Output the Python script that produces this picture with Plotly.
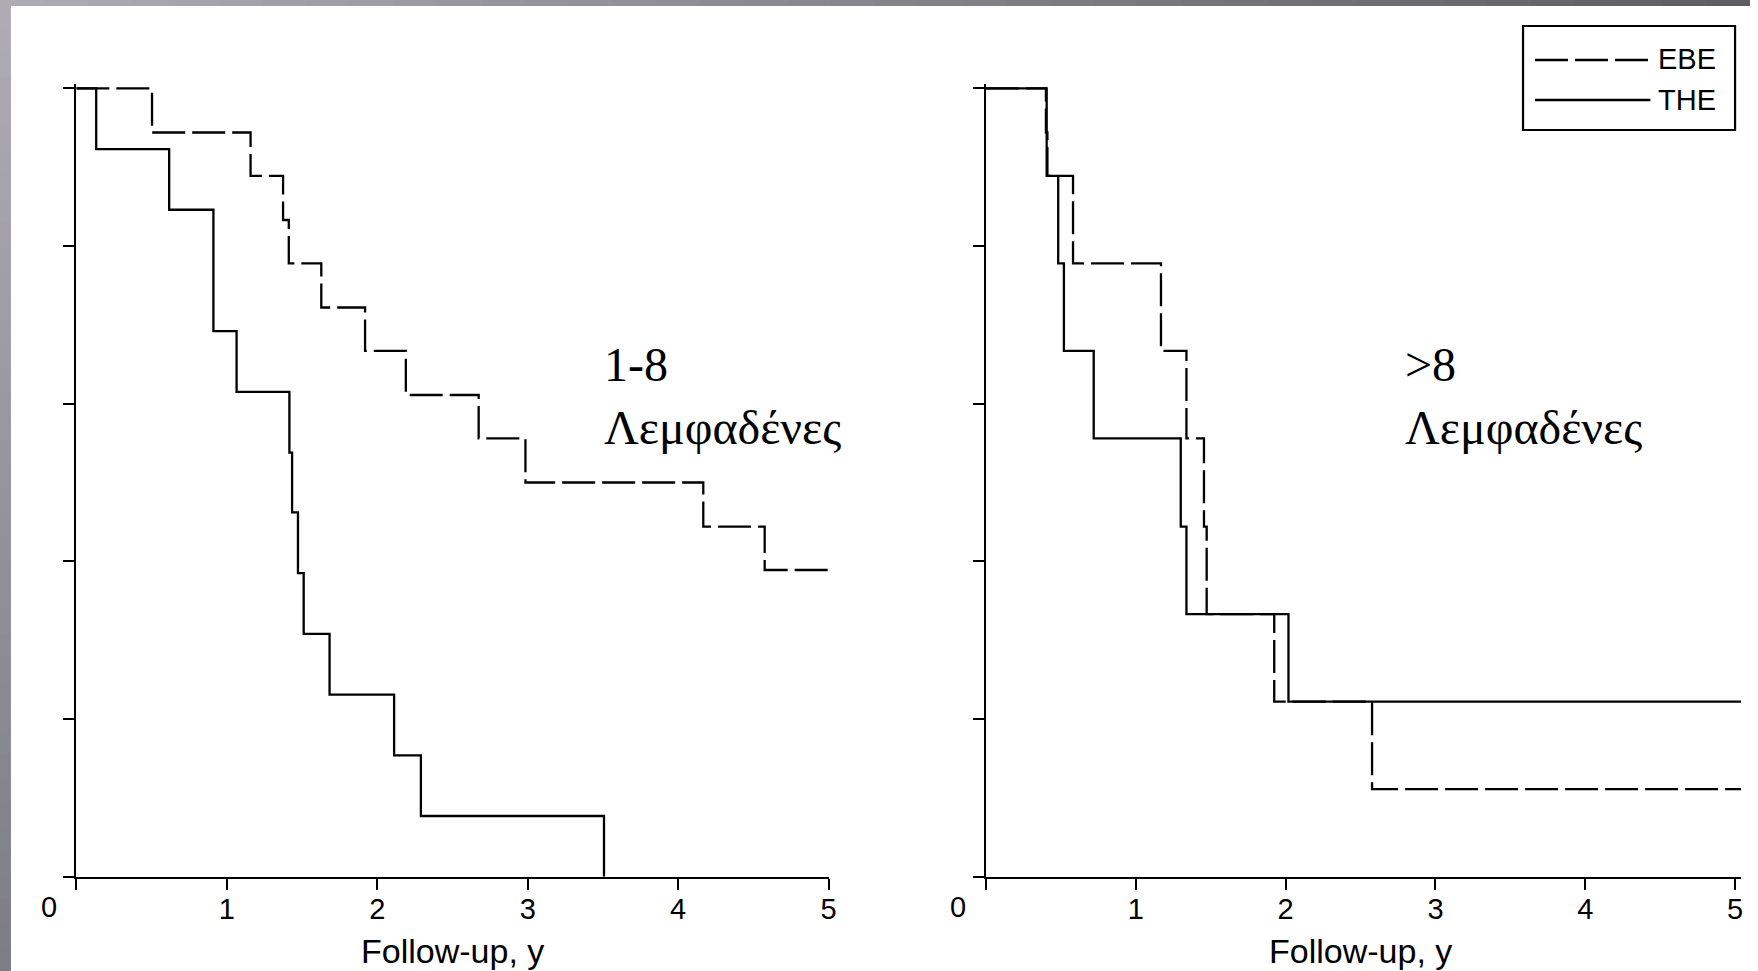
import plotly.graph_objects as go

# ---------------- data ----------------
# Left panel (1-8 lymph nodes)
left_the_t = [0, 0.132, 0.617, 0.911, 1.065, 1.416, 1.434, 1.473, 1.511, 1.683, 2.112, 2.29, 3.507]
left_the_s = [1.0, 0.923, 0.846, 0.692, 0.615, 0.538, 0.462, 0.385, 0.308, 0.231, 0.154, 0.077, 0.0]

left_ebe_t = [0, 0.503, 1.158, 1.374, 1.412, 1.628, 1.919, 2.19, 2.674, 2.985, 4.167, 4.575, 5.0]
left_ebe_s = [1.0, 0.944, 0.889, 0.833, 0.778, 0.722, 0.667, 0.611, 0.556, 0.5, 0.444, 0.389, 0.389]

# Right panel (>8 lymph nodes)
right_the_t = [0, 0.405, 0.482, 0.52, 0.719, 1.30, 1.338, 2.019, 5.04]
right_the_s = [1.0, 0.889, 0.778, 0.667, 0.556, 0.444, 0.333, 0.222, 0.222]

right_ebe_t = [0, 0.40, 0.41, 0.581, 1.168, 1.338, 1.455, 1.473, 1.924, 2.577, 5.04]
right_ebe_s = [1.0, 0.944, 0.889, 0.778, 0.667, 0.556, 0.444, 0.333, 0.222, 0.111, 0.111]

x_ticks = [0, 1, 2, 3, 4, 5]
x_ticktext = ["", "1", "2", "3", "4", "5"]
y_ticks = [0, 0.2, 0.4, 0.6, 0.8, 1.0]
x_title = "Follow-up, y"
zero_label = "0"
panel_labels = [("1-8", "Λεμφαδένες"), (">8", "Λεμφαδένες")]
series_names = ["EBE", "THE"]

# ---------------- layout helpers ----------------
W, H = 1758, 971
def px(x):
    return x / W
def py(y):
    return 1 - y / H

SANS = "Liberation Sans, Arial, sans-serif"
SERIF = "Liberation Serif, Times New Roman, serif"
BLACK = "#000000"
DASH = "33px,7px"
LW = 2.3
TICKFONT = 29

fig = go.Figure()

def add_curve(t, s, xa, ya, dashed, name):
    fig.add_trace(go.Scatter(
        x=t, y=s, mode="lines", line_shape="hv", name=name,
        line=dict(color=BLACK, width=LW, dash=DASH if dashed else "solid"),
        xaxis=xa, yaxis=ya, showlegend=False, hoverinfo="skip"))

add_curve(left_ebe_t, left_ebe_s, "x", "y", True, series_names[0])
add_curve(left_the_t, left_the_s, "x", "y", False, series_names[1])
add_curve(right_ebe_t, right_ebe_s, "x2", "y2", True, series_names[0])
add_curve(right_the_t, right_the_s, "x2", "y2", False, series_names[1])

ydom = [py(876.7), py(83.6)]

xaxis_common = dict(
    tickvals=x_ticks, ticktext=x_ticktext, ticks="outside", ticklen=11, tickwidth=2,
    tickcolor=BLACK, showline=True, linewidth=2.2, linecolor=BLACK, showgrid=False,
    zeroline=False, tickfont=dict(family=SANS, size=TICKFONT, color=BLACK), fixedrange=True,
    ticklabelstandoff=-6,
)
yaxis_common = dict(
    tickvals=y_ticks, ticks="outside", ticklen=11, tickwidth=2, tickcolor=BLACK,
    showline=True, linewidth=2.2, linecolor=BLACK, showgrid=False, zeroline=False,
    showticklabels=False, range=[0, 1.006], domain=ydom, fixedrange=True,
)

fig.update_layout(
    width=W, height=H,
    margin=dict(l=0, r=0, t=0, b=0),
    paper_bgcolor="white", plot_bgcolor="rgba(0,0,0,0)",
    xaxis=dict(domain=[px(76.7), px(832.4)], range=[0, 5.0], anchor="y", **xaxis_common),
    yaxis=dict(anchor="x", **yaxis_common),
    xaxis2=dict(domain=[px(990.5), px(990.5 + 150.5 * 5.04)], range=[0, 5.04], anchor="y2", **xaxis_common),
    yaxis2=dict(anchor="x2", **yaxis_common),
    showlegend=False,
)

shapes = []
# slide-like background strips (top and left)
def lerp(c1, c2, f):
    return "rgb(%d,%d,%d)" % tuple(round(a + (b - a) * f) for a, b in zip(c1, c2))

top_l, top_r = (174, 171, 181), (94, 93, 98)
nseg = 40
for i in range(nseg):
    x0 = i * W / nseg
    x1 = (i + 1) * W / nseg + 1
    shapes.append(dict(type="rect", xref="paper", yref="paper", x0=px(x0), x1=px(min(x1, W)),
                       y0=py(6), y1=1, line_width=0, fillcolor=lerp(top_l, top_r, i / (nseg - 1)), layer="below"))
left_t, left_b = (174, 171, 181), (125, 125, 132)
for i in range(nseg):
    y0 = 6 + i * (H - 6) / nseg
    y1 = 6 + (i + 1) * (H - 6) / nseg + 1
    shapes.append(dict(type="rect", xref="paper", yref="paper", x0=0, x1=px(11),
                       y0=py(min(y1, H)), y1=py(y0), line_width=0,
                       fillcolor=lerp(left_t, left_b, i / (nseg - 1)), layer="below"))

# legend box
shapes.append(dict(type="rect", xref="paper", yref="paper", x0=px(1530), x1=px(1743),
                   y0=py(130), y1=py(26), line=dict(color=BLACK, width=2.2), fillcolor="white"))
shapes.append(dict(type="line", xref="paper", yref="paper", x0=px(1542), x1=px(1658),
                   y0=py(60), y1=py(60), line=dict(color=BLACK, width=LW, dash=DASH)))
shapes.append(dict(type="line", xref="paper", yref="paper", x0=px(1542), x1=px(1658),
                   y0=py(100), y1=py(100), line=dict(color=BLACK, width=LW)))
fig.update_layout(shapes=shapes)

ann = []
# legend text
for name, yy in zip(series_names, [59, 100]):
    ann.append(dict(text=name, xref="paper", yref="paper", x=px(1664), y=py(yy), xanchor="left",
                    yanchor="middle", showarrow=False, font=dict(family=SANS, size=29, color=BLACK)))
# "0" labels and axis titles
for zx in [49.3, 962]:
    ann.append(dict(text=zero_label, xref="paper", yref="paper", x=px(zx), y=py(907), xanchor="center",
                    yanchor="middle", showarrow=False, font=dict(family=SANS, size=TICKFONT, color=BLACK)))
for xr in ["x", "x2"]:
    ann.append(dict(text=x_title, xref=xr, yref="paper", x=2.5, y=py(951), xanchor="center",
                    yanchor="middle", showarrow=False, font=dict(family=SANS, size=34, color=BLACK)))
# panel labels
for (l1, l2), xx in zip(panel_labels, [605, 1409]):
    ann.append(dict(text=l1, xref="paper", yref="paper", x=px(xx), y=py(364), xanchor="left",
                    yanchor="middle", showarrow=False, font=dict(family=SERIF, size=48, color=BLACK)))
    ann.append(dict(text=l2, xref="paper", yref="paper", x=px(xx), y=py(428), xanchor="left",
                    yanchor="middle", showarrow=False, font=dict(family=SERIF, size=48, color=BLACK)))
fig.update_layout(annotations=ann)

fig.write_html("out.html", config={"displayModeBar": False},
               post_script="document.body.style.margin='0px';document.body.style.overflow='hidden';")
